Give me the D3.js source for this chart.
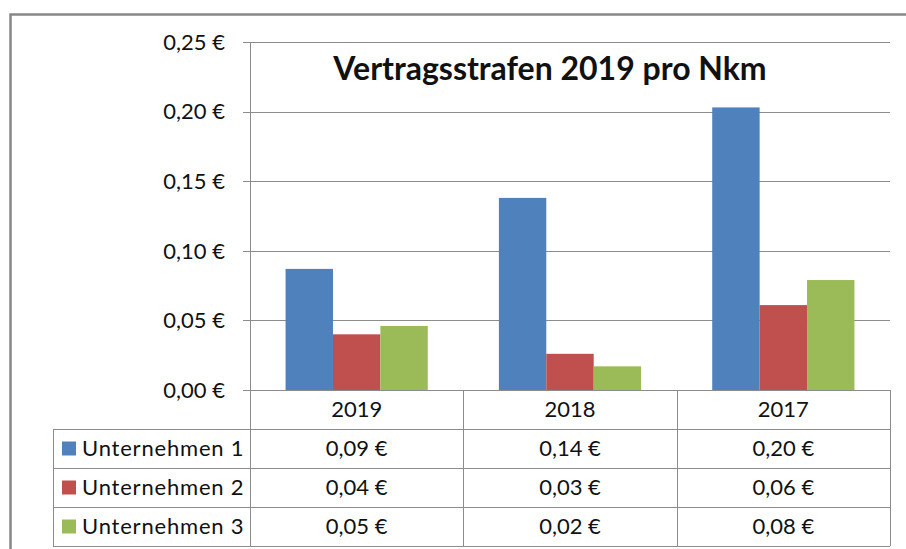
<!DOCTYPE html>
<html>
<head>
<meta charset="utf-8">
<script src="https://cdn.jsdelivr.net/npm/d3@7"></script>
<style>
  body { margin: 0; background: #fff; }
  text { font-family: Lato, "Open Sans", sans-serif; fill: #111; }
</style>
</head>
<body>
<svg id="chart" width="906" height="549"></svg>
<script>
// data
const years = ["2019", "2018", "2017"];
const seriesNames = ["Unternehmen 1", "Unternehmen 2", "Unternehmen 3"];
const unternehmen1 = [0.087, 0.138, 0.203];
const unternehmen2 = [0.040, 0.026, 0.061];
const unternehmen3 = [0.046, 0.017, 0.079];
const yTicks = [0, 0.05, 0.10, 0.15, 0.20, 0.25];
const colors = ["#4F81BD", "#C0504D", "#9BBB59"];
const title = "Vertragsstrafen 2019 pro Nkm";

const values = [unternehmen1, unternehmen2, unternehmen3];
const euro = d => d.toFixed(2).replace(".", ",") + " €";

const svg = d3.select("#chart");
const lineColor = "#8c8c8c";
const fs = 22;

// outer frame (cut by the picture edges)
svg.append("rect")
    .attr("x", 10.5).attr("y", 14.5)
    .attr("width", 1000).attr("height", 1000)
    .attr("fill", "none")
    .attr("stroke", "#878787")
    .attr("stroke-width", 2.5);

let plot = { left: 250, right: 890, top: 42, bottom: 390 };

let x0 = d3.scaleBand().domain(years).range([plot.left, plot.right]);
let x1 = d3.scaleBand().domain(seriesNames)
    .range([0, x0.bandwidth()])
    .paddingInner(0).paddingOuter(0.75);
let y = d3.scaleLinear().domain([0, 0.25]).range([plot.bottom, plot.top]);

// gridlines
svg.append("g")
    .selectAll("line")
    .data(yTicks)
    .join("line")
    .attr("x1", plot.left - 7).attr("x2", plot.right)
    .attr("y1", d => Math.round(y(d)) + 0.5)
    .attr("y2", d => Math.round(y(d)) + 0.5)
    .attr("stroke", lineColor);

// y axis line
svg.append("line")
    .attr("x1", plot.left + 0.5).attr("x2", plot.left + 0.5)
    .attr("y1", plot.top).attr("y2", plot.bottom)
    .attr("stroke", lineColor);

// y tick labels
svg.append("g")
    .selectAll("text")
    .data(yTicks)
    .join("text")
    .attr("x", 225)
    .attr("y", d => y(d))
    .attr("dy", "0.35em")
    .attr("text-anchor", "end")
    .attr("font-size", fs)
    .text(d => euro(d));

// bars
seriesNames.forEach((s, si) => {
    svg.append("g")
        .selectAll("rect")
        .data(years.map((yr, i) => ({ year: yr, value: values[si][i] })))
        .join("rect")
        .attr("x", d => x0(d.year) + x1(s))
        .attr("y", d => y(d.value))
        .attr("width", x1.bandwidth())
        .attr("height", d => y(0) - y(d.value))
        .attr("fill", colors[si]);
});

// title
svg.append("text")
    .attr("x", 550).attr("y", 69)
    .attr("dy", "0.35em")
    .attr("text-anchor", "middle")
    .attr("font-size", 32)
    .attr("font-weight", "bold")
    .text(title);

// data table
let tableLeft = 53;
let rowH = 39;
let headerTop = plot.bottom, rowTop = 429;
let rowY = i => rowTop + i * rowH;
let tbl = svg.append("g");

// horizontal lines
tbl.append("line")
    .attr("x1", plot.left).attr("x2", plot.right)
    .attr("y1", headerTop + 0.5).attr("y2", headerTop + 0.5)
    .attr("stroke", lineColor);
[0, 1, 2, 3].forEach(i => {
    tbl.append("line")
        .attr("x1", tableLeft).attr("x2", plot.right)
        .attr("y1", rowY(i) + 0.5).attr("y2", rowY(i) + 0.5)
        .attr("stroke", lineColor);
});
// vertical lines
tbl.append("line")
    .attr("x1", tableLeft + 0.5).attr("x2", tableLeft + 0.5)
    .attr("y1", rowY(0)).attr("y2", rowY(3))
    .attr("stroke", lineColor);
years.concat(["end"]).forEach((yr, i) => {
    let xx = i < years.length ? x0(yr) : plot.right;
    tbl.append("line")
        .attr("x1", Math.round(xx) + 0.5).attr("x2", Math.round(xx) + 0.5)
        .attr("y1", headerTop).attr("y2", rowY(3))
        .attr("stroke", lineColor);
});

// header labels
tbl.selectAll("text.year")
    .data(years)
    .join("text")
    .attr("class", "year")
    .attr("x", d => x0(d) + x0.bandwidth() / 2)
    .attr("y", (headerTop + rowTop) / 2)
    .attr("dy", "0.35em")
    .attr("text-anchor", "middle")
    .attr("font-size", fs)
    .text(d => d);

// rows
seriesNames.forEach((s, si) => {
    let cy = rowY(si) + rowH / 2;
    tbl.append("rect")
        .attr("x", 62).attr("y", cy - 7)
        .attr("width", 14).attr("height", 14)
        .attr("fill", colors[si]);
    tbl.append("text")
        .attr("x", 82).attr("y", cy)
        .attr("dy", "0.35em")
        .attr("font-size", fs)
        .attr("letter-spacing", 0.8)
        .text(s);
    tbl.selectAll("text.v" + si)
        .data(years.map((yr, i) => ({ year: yr, value: values[si][i] })))
        .join("text")
        .attr("class", "v" + si)
        .attr("x", d => x0(d.year) + x0.bandwidth() / 2)
        .attr("y", cy)
        .attr("dy", "0.35em")
        .attr("text-anchor", "middle")
        .attr("font-size", fs)
        .text(d => euro(d.value));
});
</script>
</body>
</html>
